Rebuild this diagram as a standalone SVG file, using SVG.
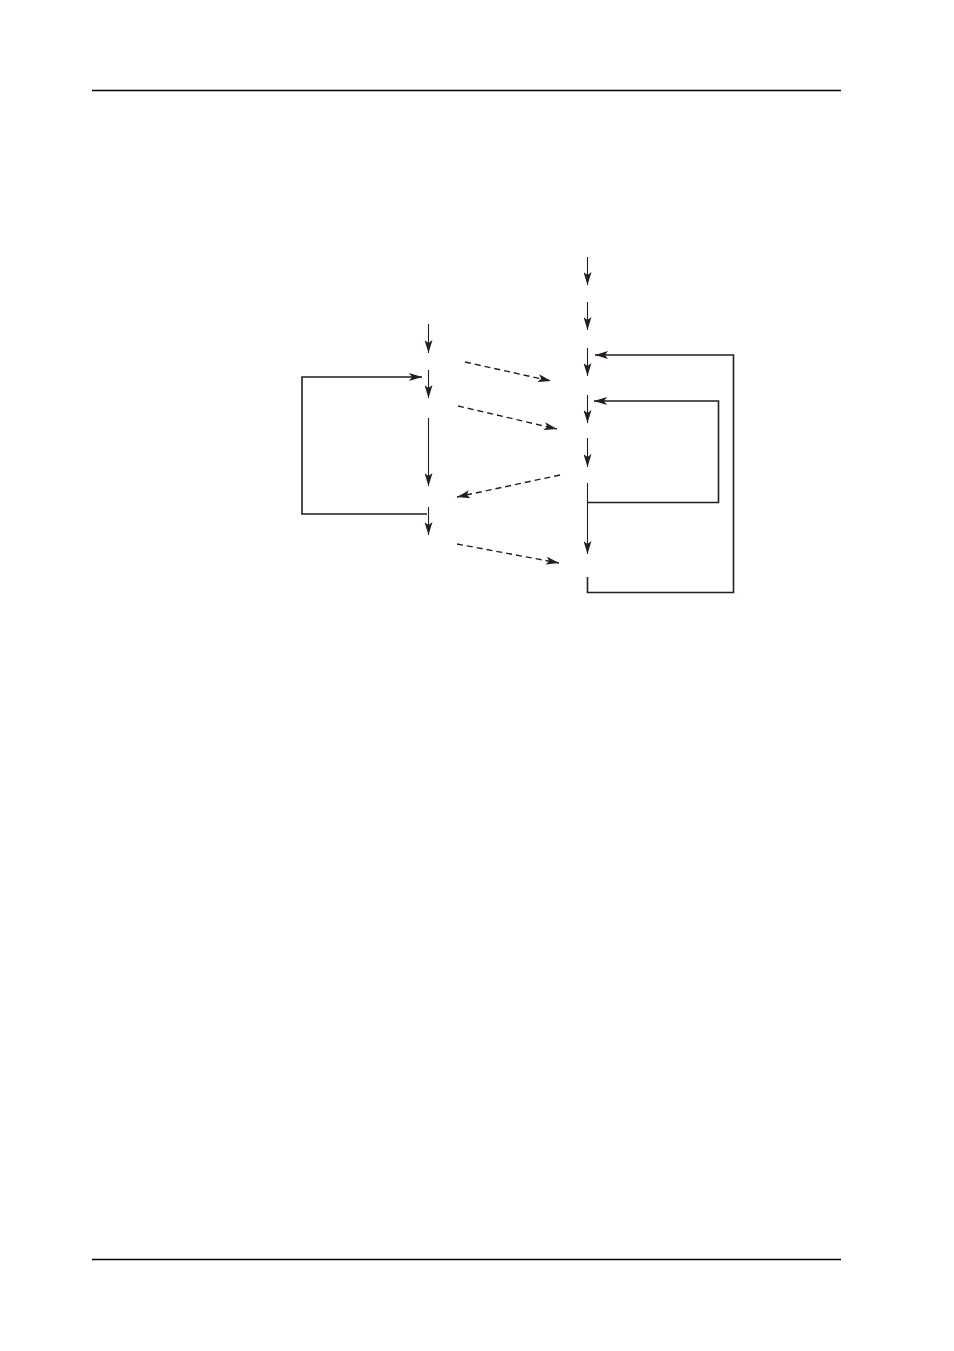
<svg xmlns="http://www.w3.org/2000/svg" width="954" height="1351" viewBox="0 0 954 1351">
<style>
.rule{stroke:#000;stroke-width:1.3;fill:none}
.c{stroke:#231f20;stroke-width:1.1;fill:none}
.loop{stroke:#231f20;stroke-width:1.6;fill:none}
.d{stroke:#231f20;stroke-width:1.4;fill:none;stroke-dasharray:6 4}
</style>
<defs>
<marker id="ah" viewBox="0 0 13 8" refX="13" refY="4" markerWidth="13" markerHeight="8" markerUnits="userSpaceOnUse" orient="auto">
<path d="M0,0 L13,4 L0,8 L3,4 Z" fill="#231f20"/>
</marker>
</defs>
<rect width="954" height="1351" fill="#fff"/>
<line class="rule" x1="92" y1="90.5" x2="841" y2="90.5"/>
<line class="rule" x1="92" y1="1259.5" x2="841" y2="1259.5"/>
<g id="connectors">
<line class="c" x1="428.5" y1="324" x2="428.5" y2="353" marker-end="url(#ah)"/>
<line class="c" x1="428.5" y1="370" x2="428.5" y2="398" marker-end="url(#ah)"/>
<line class="c" x1="428.5" y1="418" x2="428.5" y2="486" marker-end="url(#ah)"/>
<line class="c" x1="428.5" y1="507" x2="428.5" y2="535" marker-end="url(#ah)"/>
<path class="loop" d="M427,514 H302 V377 H422" marker-end="url(#ah)"/>
<line class="c" x1="587.5" y1="257" x2="587.5" y2="285" marker-end="url(#ah)"/>
<line class="c" x1="587.5" y1="302" x2="587.5" y2="330" marker-end="url(#ah)"/>
<line class="c" x1="587.5" y1="348" x2="587.5" y2="376" marker-end="url(#ah)"/>
<line class="c" x1="587.5" y1="395" x2="587.5" y2="423" marker-end="url(#ah)"/>
<line class="c" x1="587.5" y1="438" x2="587.5" y2="467" marker-end="url(#ah)"/>
<line class="c" x1="587.5" y1="483" x2="587.5" y2="554" marker-end="url(#ah)"/>
<path class="loop" d="M587.5,502.5 H718.5 V401 H594" marker-end="url(#ah)"/>
<path class="loop" d="M587.5,577 V592.5 H733.5 V355 H595" marker-end="url(#ah)"/>
<line class="d" x1="465" y1="362" x2="551" y2="381" marker-end="url(#ah)"/>
<line class="d" x1="458" y1="406" x2="557" y2="429" marker-end="url(#ah)"/>
<line class="d" x1="560" y1="475" x2="457" y2="497" marker-end="url(#ah)"/>
<line class="d" x1="457" y1="544" x2="559" y2="563" marker-end="url(#ah)"/>
</g>
</svg>
